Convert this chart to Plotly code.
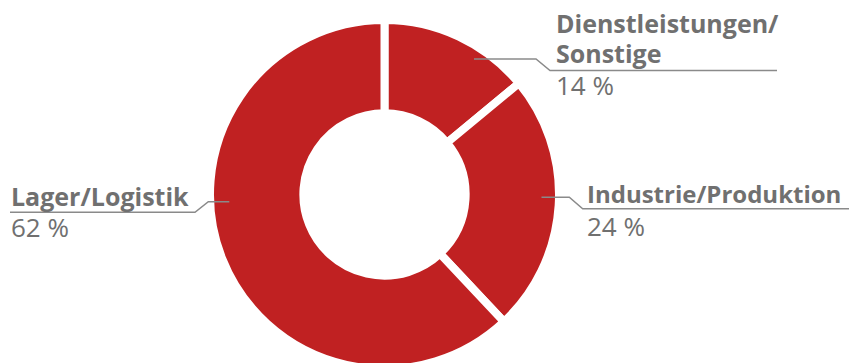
import plotly.graph_objects as go

categories = ["Dienstleistungen/Sonstige", "Industrie/Produktion", "Lager/Logistik"]
values = [14, 24, 62]
value_labels = ["14 %", "24 %", "62 %"]

W, H = 849, 369
RED = "#C02122"
GRAY_TXT = "#707070"
GRAY_LINE = "#8a8a8a"
FONT = "Open Sans"

def px(x, y):
    return x / W, (H - y) / H

cx, cy, R = 384.5, 194.5, 174.5
x0, y0 = px(cx - R, cy + R)
x1, y1 = px(cx + R, cy - R)

fig = go.Figure(go.Pie(
    labels=categories, values=values, sort=False, direction="clockwise",
    rotation=0, hole=0.465, textinfo="none", hoverinfo="label+value",
    marker=dict(colors=[RED] * 3, line=dict(color="white", width=8)),
    domain=dict(x=[x0, x1], y=[max(0, y0), min(1, y1)]),
    showlegend=False,
))

annotations = []
def add_text(text, x, ytop, ybase, bold, size=None):
    xp, yp = px(x, (ytop + ybase) / 2)
    annotations.append(dict(
        text=f"<b>{text}</b>" if bold else text, x=xp, y=yp, xref="paper", yref="paper",
        xanchor="left", yanchor="middle", showarrow=False,
        font=dict(family=FONT, size=size or (25 if bold else 26), color=GRAY_TXT),
    ))

add_text("Dienstleistungen/", 554, 15, 32, True)
add_text("Sonstige", 554, 45, 62, True)
add_text(value_labels[0], 554, 76, 94, False)
add_text(categories[1], 585, 184, 202, True, 24)
add_text(value_labels[1], 585, 217, 234, False)
add_text(categories[2], 9, 187, 204, True)
add_text(value_labels[2], 9, 218, 236, False)

shapes = []
def leader(points):
    pts = [px(x, y) for x, y in points]
    path = "M " + " L ".join(f"{a},{b}" for a, b in pts)
    shapes.append(dict(type="path", path=path, xref="paper", yref="paper",
                       line=dict(color=GRAY_LINE, width=1.5)))

leader([(474, 59), (536, 59), (550, 70.5), (777, 70.5)])
leader([(541.5, 197.3), (569.3, 197.3), (582.7, 208.7), (849, 208.7)])
leader([(229.3, 201.7), (208.3, 201.7), (195, 212.3), (10, 212.3)])

fig.update_layout(
    width=W, height=H, margin=dict(l=0, r=0, t=0, b=0),
    paper_bgcolor="white", plot_bgcolor="white",
    annotations=annotations, shapes=shapes,
)

fig.write_html("out.html", post_script="document.documentElement.style.overflow='hidden';document.body.style.overflow='hidden';document.body.style.margin='0';")
